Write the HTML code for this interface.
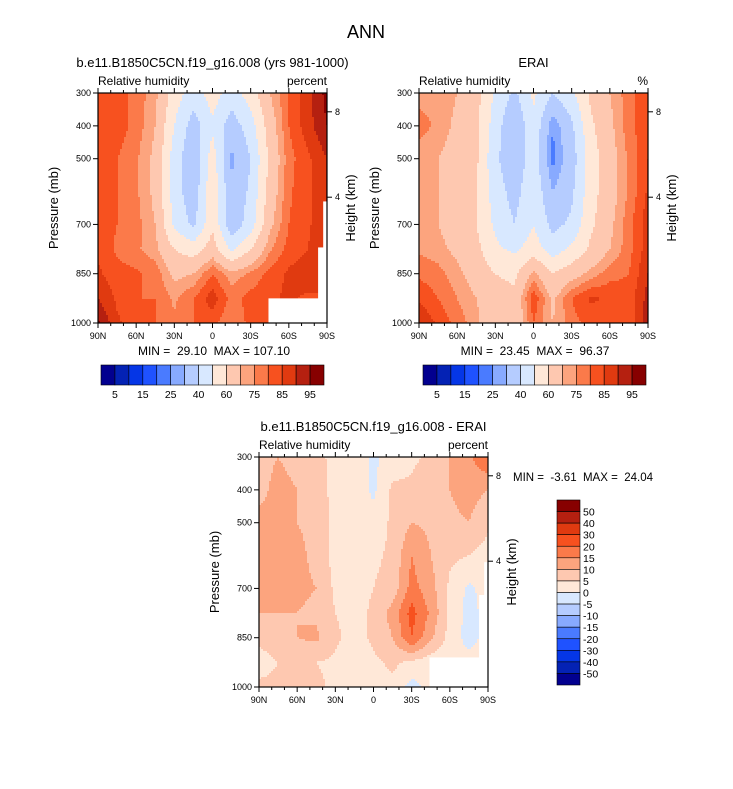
<!DOCTYPE html>
<html><head><meta charset="utf-8"><style>
body{margin:0;background:#fff;width:733px;height:784px;overflow:hidden}
svg text{font-family:"Liberation Sans",Arial,sans-serif;fill:#000;white-space:pre}
</style></head><body>
<svg id="fig" width="733" height="784" xmlns="http://www.w3.org/2000/svg">
<text x="366" y="38" font-size="18" text-anchor="middle">ANN</text>
</svg>
<script>
const lats=[90,75,60,45,30,15,0,-15,-30,-45,-60,-75,-90];
const pres=[300,400,500,600,700,775,850,925,1000];
const model=[
[82,83,78,72,55,45,55,45,55,70,80,88,97],
[83,83,78,70,50,35,48,35,45,65,80,88,95],
[82,80,76,68,45,32,55,28,40,62,78,84,90],
[82,80,76,68,45,33,58,32,42,64,79,84,90],
[83,80,77,70,48,38,58,33,45,68,80,84,90],
[84,79,76,72,60,55,65,48,60,74,82,85,90],
[86,82,81,78,68,70,80,72,76,82,86,88,88],
[90,84,80,80,74,80,88,78,82,84,86,84,84],
[96,86,82,80,76,80,82,75,82,84,84,84,84]];
const erai=[
[73,74,70,64,48,38,52,40,48,62,70,78,84],
[77,74,68,62,45,30,48,25,38,58,68,78,84],
[72,70,66,62,42,32,46,23,35,55,66,76,85],
[71,70,65,60,45,36,48,30,38,56,66,76,86],
[72,70,66,60,48,40,50,37,42,58,68,78,88],
[74,72,68,63,52,48,55,45,52,62,70,78,88],
[79,77,72,66,60,58,72,60,66,72,78,80,90],
[84,80,75,70,64,62,84,68,80,86,84,82,92],
[90,84,78,72,60,62,80,70,78,82,82,80,94]];
const diff=[
[8,10,8,6,4,3,-1,2,4,6,10,14,20],
[8,12,10,8,3,3,-1,6,6,8,10,12,10],
[12,12,10,9,3,2,2,6,10,9,9,10,6],
[13,12,11,9,3,2,4,6,15,10,6,5,3],
[13,12,11,10,4,3,5,7,17,12,4,-1,2],
[10,10,10,9,5,3,6,12,22,14,4,-2,2],
[6,8,10,11,6,3,6,10,20,11,3,-2,2],
[3,5,6,5,4,2,4,6,4,2,2,2,2],
[6,6,6,6,4,4,2,4,-2,2,2,2,2]];
const rhLevels=[5,10,15,20,25,30,40,50,60,70,75,80,85,90,95];
const rhLabels=["5","15","25","40","60","75","85","95"];
const dLevels=[-50,-40,-30,-20,-15,-10,-5,0,5,10,15,20,30,40,50];
const dLabels=["50","40","30","20","15","10","5","0","-5","-10","-15","-20","-30","-40","-50"];
const colors=["#02008f","#0422b4","#0536e6","#1f52ff","#4a7bff","#88aaff","#b5ccff","#d8e8ff","#ffe8d8","#fec8b0","#fca47e","#fb7a4a","#f7511f","#e03a10","#b52010","#870000"];
const xTickVals=[90,60,30,0,-30,-60,-90];
const xTickLabs=["90N","60N","30N","0","30S","60S","90S"];
const pTicks=[300,400,500,700,850,1000];
const hTicks=[8,4];

const NS="http://www.w3.org/2000/svg";
const svg=document.getElementById('fig');
function el(tag,attrs,parent,txt){const e=document.createElementNS(NS,tag);for(const k in attrs)e.setAttribute(k,attrs[k]);if(txt!==undefined)e.textContent=txt;(parent||svg).appendChild(e);return e;}
function colorIdx(v,lev){let i=0;while(i<lev.length&&v>=lev[i])i++;return i;}
function interp(grid,lat,p){
  let fi=(90-lat)/15; let i=Math.max(0,Math.min(Math.floor(fi),lats.length-2)); let tx=fi-i;
  let j=0; while(j<pres.length-2&&p>pres[j+1])j++;
  let ty=(p-pres[j])/(pres[j+1]-pres[j]);
  const a=grid[j][i],b=grid[j][i+1],c=grid[j+1][i],d=grid[j+1][i+1];
  return a*(1-tx)*(1-ty)+b*tx*(1-ty)+c*(1-tx)*ty+d*tx*ty;
}
function panel(name,x0,y0,w,h,grid,lev,title,units,masks){
  const g=el('g',{},svg);
  
  
  const xs=lat=>x0+(90-lat)/180*w;
  const ys=p=>y0+(p-300)/700*h;
  const field=el('g',{},g);
  
  
  const step=2;
  for(let yy=0;yy<h;yy+=step){
    const p=300+Math.min(yy+step/2,h)/h*700;
    const hh=Math.min(step,h-yy);
    let runStart=0,runC=-1;
    for(let xx=0;;xx+=step){
      const end=xx>=w;
      let c=-1;
      if(!end){const lat=90-Math.min(xx+step/2,w)/w*180;c=colorIdx(interp(grid,lat,p),lev);}
      if(c!==runC||end){
        if(runC>=0){const r=el('rect',{x:x0+runStart,y:y0+yy,width:Math.min(xx,w)-runStart+0.5,height:hh+0.5,fill:colors[runC]},field);
          
          }
        runStart=xx;runC=c;
      }
      if(end)break;
    }
  }
  (masks||[]).forEach(m=>{const r=el('rect',{x:xs(m[0]),y:ys(m[1]),width:xs(-90)-xs(m[0]),height:ys(1000)-ys(m[1]),fill:'#fff'},g);
    
    });
  el('rect',{x:x0,y:y0,width:w,height:h,fill:'none',stroke:'#000','stroke-width':1.2},g);
  for(let lat=90;lat>=-90;lat-=10){
    const x=xs(lat),maj=lat%30===0;const L=maj?5:3;
    el('line',{x1:x,x2:x,y1:y0+h,y2:y0+h+L,stroke:'#000'},g);
    el('line',{x1:x,x2:x,y1:y0,y2:y0-L,stroke:'#000'},g);
  }
  xTickVals.forEach((v,i)=>{const t=el('text',{x:xs(v),y:y0+h+16,'font-size':9,'text-anchor':'middle'},g,xTickLabs[i]);
    });
  pTicks.forEach(p=>{el('line',{x1:x0-5,x2:x0,y1:ys(p),y2:ys(p),stroke:'#000'},g);
    const t=el('text',{x:x0-7,y:ys(p)+3,'font-size':9,'text-anchor':'end'},g,p);
    });
  hTicks.forEach(hk=>{const y=y0+18.8+(8-hk)*21.35*h/230;el('line',{x1:x0+w,x2:x0+w+5,y1:y,y2:y,stroke:'#000'},g);
    const t=el('text',{x:x0+w+8,y:y+3,'font-size':9},g,hk);
    });
  const tt=el('text',{x:x0+w/2,y:y0-26,'font-size':13,'text-anchor':'middle'},g,title);
  
  const l1=el('text',{x:x0,y:y0-8,'font-size':12},g,'Relative humidity');
  
  const l2=el('text',{x:x0+w,y:y0-8,'font-size':12,'text-anchor':'end'},g,units);
  
  const ya=el('text',{x:0,y:0,'font-size':13,'text-anchor':'middle',transform:`translate(${x0-40},${y0+h/2}) rotate(-90)`},g,'Pressure (mb)');
  
  const yb=el('text',{x:0,y:0,'font-size':13,'text-anchor':'middle',transform:`translate(${x0+w+28},${y0+h/2}) rotate(-90)`},g,'Height (km)');
  
  return g;
}
const p1=panel('model-panel',98,93,229,230,model,rhLevels,'b.e11.B1850C5CN.f19_g16.008 (yrs 981-1000)','percent',[[-44,925],[-83,770],[-87,630]]);
const p2=panel('erai-panel',419,93,229,230,erai,rhLevels,'ERAI','%',[]);
const p3=panel('difference-panel',259,457,229,230,diff,dLevels,'b.e11.B1850C5CN.f19_g16.008 - ERAI','percent',[[-44,910],[-83,720],[-87,620]]);
function mm(x,y,txt,nm){const t=el('text',{x:x,y:y,'font-size':12,'text-anchor':'middle'},svg,txt);
  }
mm(214,355,'MIN =  29.10  MAX = 107.10','model-min-max');
mm(535,355,'MIN =  23.45  MAX =  96.37','erai-min-max');
const t3=el('text',{x:513,y:481,'font-size':11.5},svg,'MIN =  -3.61  MAX =  24.04');

function hbar(name,x0,y0,w,h){
  const g=el('g',{},svg);
  
  
  const bw=w/colors.length;
  colors.forEach((c,i)=>{const r=el('rect',{x:x0+i*bw,y:y0,width:bw,height:h,fill:c,stroke:'#000','stroke-width':0.6},g);
    });
  rhLabels.forEach((l,k)=>{const t=el('text',{x:x0+(2*k+1)*bw,y:y0+h+13,'font-size':10.5,'text-anchor':'middle'},g,l);
    });
}
hbar('model-colorbar',101,365,223,20);
hbar('erai-colorbar',423,365,223,20);
(function(){
  const g=el('g',{},svg);
  
  
  const x0=557,y0=500,w=23,h=185,bh=h/colors.length;
  colors.slice().reverse().forEach((c,i)=>{const r=el('rect',{x:x0,y:y0+i*bh,width:w,height:bh,fill:c,stroke:'#000','stroke-width':0.6},g);
    });
  dLabels.forEach((l,k)=>{const t=el('text',{x:x0+w+3,y:y0+(k+1)*bh+4,'font-size':10.5},g,l);
    });
})();
</script>
</body></html>
